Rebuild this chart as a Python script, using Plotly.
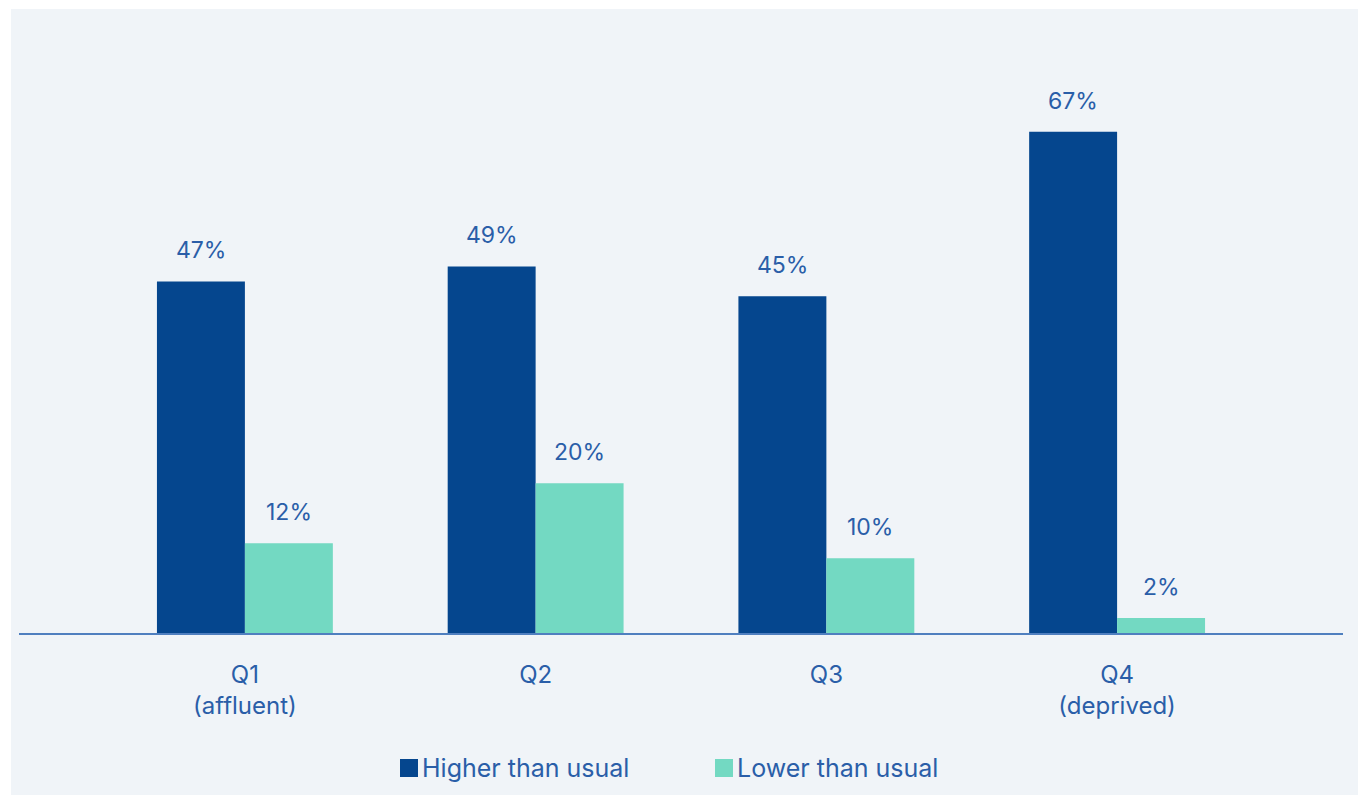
import plotly.graph_objects as go

# Data
categories = ["Q1<br>(affluent)", "Q2", "Q3", "Q4<br>(deprived)"]
higher_than_usual = [47, 49, 45, 67]
lower_than_usual = [12, 20, 10, 2]
series_names = ["Higher than usual", "Lower than usual"]

# Styling
DARK = "#05468e"
LIGHT = "#73d9c2"
PANEL = "#f0f4f8"
TEXT = "#2a5ea8"
FONT = "Inter"

W, H = 1358, 795
M = dict(l=19, r=15, t=33, b=162)
BARGAP = 0.395
Y_MAX = 80.2
X_RANGE = [-0.777, 3.777]

plot_w = W - M["l"] - M["r"]
plot_h = H - M["t"] - M["b"]


def px_x(px):
    return (px - M["l"]) / plot_w


def px_y(py):
    return (H - M["b"] - py) / plot_h


fig = go.Figure()
for name, vals, col in zip(series_names, [higher_than_usual, lower_than_usual], [DARK, LIGHT]):
    fig.add_trace(go.Bar(
        x=categories, y=vals, name=name, marker=dict(color=col, line=dict(width=0)),
        showlegend=False, hoverinfo="skip",
    ))

# Value labels above each bar
half = (1 - BARGAP) / 4
annotations = []
for i in range(len(categories)):
    for vals, dx in ((higher_than_usual, -half), (lower_than_usual, half)):
        annotations.append(dict(
            x=i + dx, y=vals[i], xref="x", yref="y", text=f"{vals[i]}%",
            showarrow=False, yshift=31, yanchor="middle", xanchor="center",
            font=dict(family=FONT, size=23, color=TEXT),
        ))

# White frame strips along the top and left edges of the light panel
shapes = [
    dict(type="rect", xref="paper", yref="paper", layer="below",
         x0=px_x(-5), x1=px_x(W + 5), y0=px_y(9), y1=px_y(-5),
         fillcolor="white", line=dict(width=0)),
    dict(type="rect", xref="paper", yref="paper", layer="below",
         x0=px_x(-5), x1=px_x(11), y0=px_y(H + 5), y1=px_y(-5),
         fillcolor="white", line=dict(width=0)),
]

# Legend drawn as squares + labels, centred under the chart
legend_items = [(400, DARK, series_names[0]), (715, LIGHT, series_names[1])]
for x0, col, label in legend_items:
    shapes.append(dict(type="rect", xref="paper", yref="paper",
                       x0=px_x(x0), x1=px_x(x0 + 18), y0=px_y(777), y1=px_y(759),
                       fillcolor=col, line=dict(width=0)))
    annotations.append(dict(x=px_x(x0 + 20), y=px_y(768), xref="paper", yref="paper",
                            text=label, showarrow=False, xanchor="left", yanchor="middle",
                            font=dict(family=FONT, size=25, color=TEXT)))

fig.update_layout(
    width=W, height=H, margin=M,
    paper_bgcolor=PANEL, plot_bgcolor="rgba(0,0,0,0)",
    barmode="group", bargap=BARGAP, bargroupgap=0,
    font=dict(family=FONT, color=TEXT),
    shapes=shapes, annotations=annotations,
    xaxis=dict(range=X_RANGE, showline=True, linecolor="#4f7fbf", linewidth=2,
               showgrid=False, zeroline=False, ticks="", ticklabelstandoff=19,
               tickfont=dict(family=FONT, size=24, color=TEXT)),
    yaxis=dict(range=[0, Y_MAX], visible=False, showgrid=False, zeroline=False),
)

fig.write_html("out.html")
